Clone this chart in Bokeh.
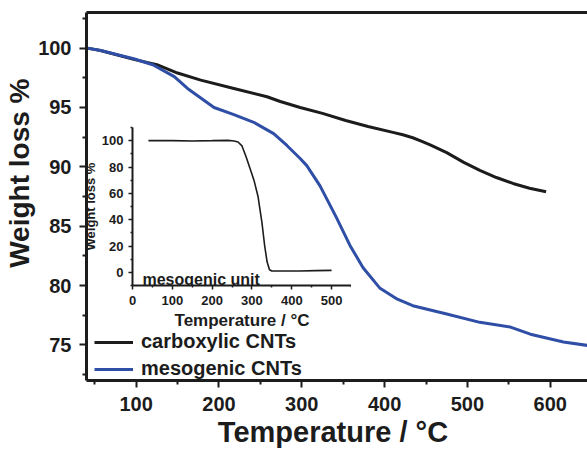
from bokeh.plotting import figure
from bokeh.models import LinearAxis, FixedTicker, Legend, LegendItem, Label, Range1d
from bokeh.layouts import column
from bokeh.embed import file_html
from bokeh.resources import INLINE

FONT = "Liberation Sans"
NB = "\u00a0"

# main chart data
carb_T = [41, 57, 97, 125, 150, 178, 218, 258, 274, 298, 325, 353, 380, 410, 422, 434, 445, 455, 475, 495, 515, 535, 555, 575, 595]
carb_W = [100, 99.8, 99.05, 98.6, 97.9, 97.3, 96.6, 95.9, 95.5, 95.0, 94.5, 93.9, 93.4, 92.9, 92.7, 92.45, 92.15, 91.85, 91.2, 90.4, 89.7, 89.1, 88.6, 88.2, 87.9]
meso_T = [41, 57, 97, 120, 146, 162, 178, 194, 218, 242, 266, 282, 298, 306, 322, 342, 358, 374, 394, 414, 434, 475, 515, 552, 576, 616, 650]
meso_W = [100, 99.8, 99.1, 98.6, 97.6, 96.6, 95.8, 95.0, 94.4, 93.75, 92.8, 91.8, 90.7, 90.1, 88.4, 85.7, 83.4, 81.5, 79.8, 78.9, 78.3, 77.6, 76.9, 76.5, 75.9, 75.25, 74.9]

# inset data
unit_T = [40, 100, 150, 200, 240, 255, 265, 275, 285, 295, 305, 315, 325, 332, 338, 344, 350, 380, 420, 460, 500]
unit_W = [100, 100, 99.8, 100, 100.2, 99.8, 99, 96, 88, 79, 70, 58, 38, 20, 8, 2, 1, 1, 1, 1.3, 1.5]

x_ticks = [100, 200, 300, 400, 500, 600]
x_minor = [50, 150, 250, 350, 450, 550, 650]
y_ticks = [75, 80, 85, 90, 95, 100]
y_minor = [72.5, 77.5, 82.5, 87.5, 92.5, 97.5, 102.5]
ix_ticks = [0, 100, 200, 300, 400, 500]
ix_minor = [50, 150, 250, 350, 450, 550]
iy_ticks = [0, 20, 40, 60, 80, 100]
iy_minor = [-10, 10, 30, 50, 70, 90, 110]

BLACK = "#1c1c1c"
BLUE = "#2f4ea6"

p = figure(width=587, height=450, x_range=Range1d(40, 645), y_range=Range1d(72, 103),
           output_backend="svg", toolbar_location=None,
           min_border_left=86, min_border_right=0, min_border_top=12, min_border_bottom=66,
           outline_line_color=None, x_axis_location=None, y_axis_location=None)
p.grid.visible = False

# leading/trailing no-break spaces shift the titles off-centre as in the original
xa = LinearAxis(ticker=FixedTicker(ticks=x_ticks, minor_ticks=x_minor), axis_label="Temperature / °C" + NB)
ya = LinearAxis(ticker=FixedTicker(ticks=y_ticks, minor_ticks=y_minor), axis_label=NB * 6 + "Weight loss %")
for ax in (xa, ya):
    ax.axis_line_width = 3
    ax.axis_line_color = BLACK
    ax.major_tick_line_width = 2
    ax.minor_tick_line_width = 2
    ax.major_tick_line_color = BLACK
    ax.minor_tick_line_color = BLACK
    ax.major_tick_in = 0
    ax.major_tick_out = 7
    ax.minor_tick_in = 0
    ax.minor_tick_out = 4
    ax.major_label_text_font = FONT
    ax.major_label_text_font_style = "bold"
    ax.major_label_text_font_size = "20px"
    ax.major_label_text_color = BLACK
    ax.axis_label_text_font = FONT
    ax.axis_label_text_font_style = "bold"
    ax.axis_label_text_font_size = "28px"
    ax.axis_label_text_color = BLACK
xa.axis_label_text_font_size = "29px"
xa.major_label_standoff = 9
xa.axis_label_standoff = 2
ya.major_label_standoff = 8
ya.axis_label_standoff = 0
p.add_layout(xa, "below")
p.add_layout(ya, "left")

top = LinearAxis(ticker=FixedTicker(ticks=[]), axis_line_width=3, axis_line_color=BLACK,
                 major_label_text_font_size="0px", major_tick_out=0, minor_tick_out=0,
                 major_tick_in=0, minor_tick_in=0)
p.add_layout(top, "above")

r1 = p.line(carb_T, carb_W, line_color=BLACK, line_width=3)
r2 = p.line(meso_T, meso_W, line_color=BLUE, line_width=3)

legend = Legend(items=[LegendItem(label="carboxylic CNTs", renderers=[r1]),
                       LegendItem(label="mesogenic CNTs", renderers=[r2])],
                location=(8, 0), border_line_color=None, background_fill_alpha=0,
                label_text_font=FONT, label_text_font_style="bold", label_text_font_size="20px",
                label_text_color=BLACK,
                glyph_width=39, glyph_height=20, label_height=20, label_standoff=8,
                spacing=4, padding=0, margin=0)
p.add_layout(legend)

# inset (its left border is aligned with the main plot's by the column layout)
q = figure(width=305, height=212, x_range=Range1d(0, 550), y_range=Range1d(-10, 110),
           output_backend="svg", toolbar_location=None,
           min_border_left=86, min_border_right=0, min_border_top=7, min_border_bottom=45,
           outline_line_color=None, background_fill_alpha=0, border_fill_alpha=0,
           x_axis_location=None, y_axis_location=None, margin=(-330, 0, 0, 46))
q.grid.visible = False
qx = LinearAxis(ticker=FixedTicker(ticks=ix_ticks, minor_ticks=ix_minor), axis_label="Temperature / °C")
qy = LinearAxis(ticker=FixedTicker(ticks=iy_ticks, minor_ticks=iy_minor), axis_label="Weight loss %")
for ax in (qx, qy):
    ax.axis_line_width = 2
    ax.axis_line_color = BLACK
    ax.major_tick_line_width = 1.5
    ax.minor_tick_line_width = 1.5
    ax.major_tick_line_color = BLACK
    ax.minor_tick_line_color = BLACK
    ax.major_tick_in = 0
    ax.major_tick_out = 4
    ax.minor_tick_in = 0
    ax.minor_tick_out = 2
    ax.major_label_text_font = FONT
    ax.major_label_text_font_style = "bold"
    ax.major_label_text_font_size = "13px"
    ax.major_label_text_color = BLACK
    ax.axis_label_text_font = FONT
    ax.axis_label_text_font_style = "bold"
    ax.axis_label_text_color = BLACK
qx.axis_label_text_font_size = "17px"
qy.axis_label_text_font_size = "13px"
qx.major_label_standoff = 6
qx.axis_label_standoff = 3
qy.major_label_standoff = 5
qy.axis_label_standoff = 1
q.add_layout(qx, "below")
q.add_layout(qy, "left")
q.line(unit_T, unit_W, line_color=BLACK, line_width=1.6)
q.add_layout(Label(x=25, y=-5.5, text="mesogenic unit", text_font=FONT, text_font_style="bold",
                   text_font_size="16px", text_color=BLACK, text_baseline="alphabetic"))

layout = column(p, q)
open("out.html", "w").write(file_html(layout, INLINE))
